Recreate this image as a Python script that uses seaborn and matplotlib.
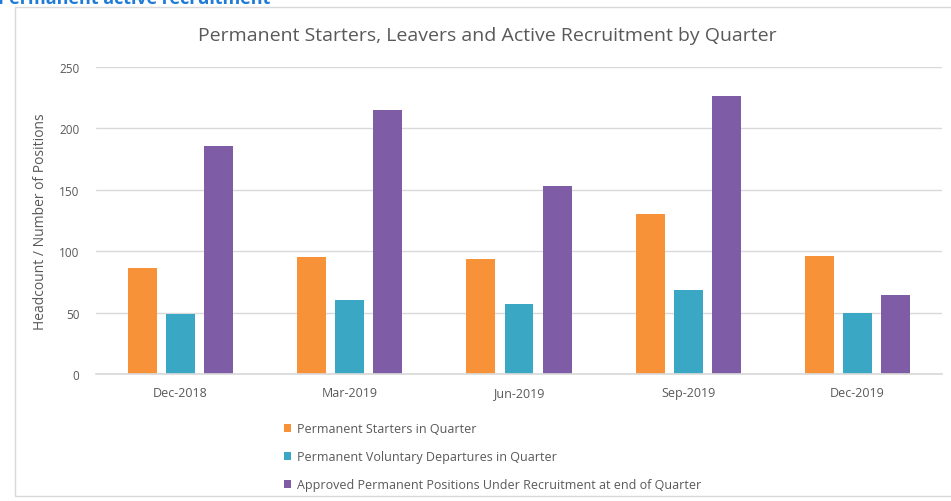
import matplotlib
matplotlib.use("Agg")
import matplotlib.pyplot as plt
from matplotlib.patches import Rectangle
import seaborn as sns
import pandas as pd

quarters = ["Dec-2018", "Mar-2019", "Jun-2019", "Sep-2019", "Dec-2019"]
starters = [86, 95, 94, 130, 96]
departures = [49, 60, 57, 68, 50]
under_recruitment = [186, 215, 153, 226, 64]
series_names = [
    "Permanent Starters in Quarter",
    "Permanent Voluntary Departures in Quarter",
    "Approved Permanent Positions Under Recruitment at end of Quarter",
]
colors = ["#F79239", "#3AA7C4", "#7E5DA6"]
y_ticks = [0, 50, 100, 150, 200, 250]

rows = []
for name, vals in zip(series_names, [starters, departures, under_recruitment]):
    for q, v in zip(quarters, vals):
        rows.append({"Quarter": q, "Series": name, "Value": v})
df = pd.DataFrame(rows)

sns.set_theme(style="white")
plt.rcParams["font.family"] = ["Open Sans", "DejaVu Sans"]

fig = plt.figure(figsize=(9.51, 5.02), dpi=100)
fig.patch.set_facecolor("white")

# outer chart frame
fig.add_artist(Rectangle((15 / 951, 5 / 502), 940 / 951, 489 / 502,
                         transform=fig.transFigure, fill=False,
                         edgecolor="#D9D9D9", linewidth=1.0))

# section heading (partly above the frame)
fig.text(-0.002, 1 - 4 / 502, "Permanent active recruitment", color="#1F7BD8",
         fontsize=13, fontweight="bold", va="baseline", ha="left")

# chart title, centred on the frame
fig.text(487 / 951, 1 - 36 / 502,
         "Permanent Starters, Leavers and Active Recruitment by Quarter",
         fontsize=14, color="#595959", ha="center", va="center")

ax = fig.add_axes([96 / 951, 1 - 375 / 502, 846 / 951, 307 / 502])
sns.barplot(data=df, x="Quarter", y="Value", hue="Series", order=quarters,
            hue_order=series_names, palette=colors, width=0.675, gap=0.24,
            saturation=1, linewidth=0, ax=ax, legend=True)

ax.set_ylim(0, 250)
ax.set_xlim(-0.5, len(quarters) - 0.5)
ax.set_yticks(y_ticks)
ax.yaxis.grid(True, color="#D9D9D9", linewidth=1.0)
ax.set_axisbelow(True)
for s in ["top", "right", "left"]:
    ax.spines[s].set_visible(False)
ax.spines["bottom"].set_color("#D9D9D9")
ax.tick_params(axis="both", length=0, labelcolor="#595959")
ax.tick_params(axis="x", pad=9, labelsize=9)
ax.tick_params(axis="y", pad=12, labelsize=8.5)
ax.set_xlabel("")
ax.set_ylabel("Headcount / Number of Positions", fontsize=10, color="#595959",
              labelpad=8)

handles, labels = ax.get_legend_handles_labels()
ax.get_legend().remove()
fig.legend(handles, labels, loc="upper left",
           bbox_to_anchor=(273 / 951, 1 - 412 / 502), frameon=False,
           fontsize=9, labelcolor="#595959", handlelength=0.55,
           handleheight=0.55, handletextpad=0.45, labelspacing=1.2)

fig.savefig("out.png", dpi=100, facecolor="white")
